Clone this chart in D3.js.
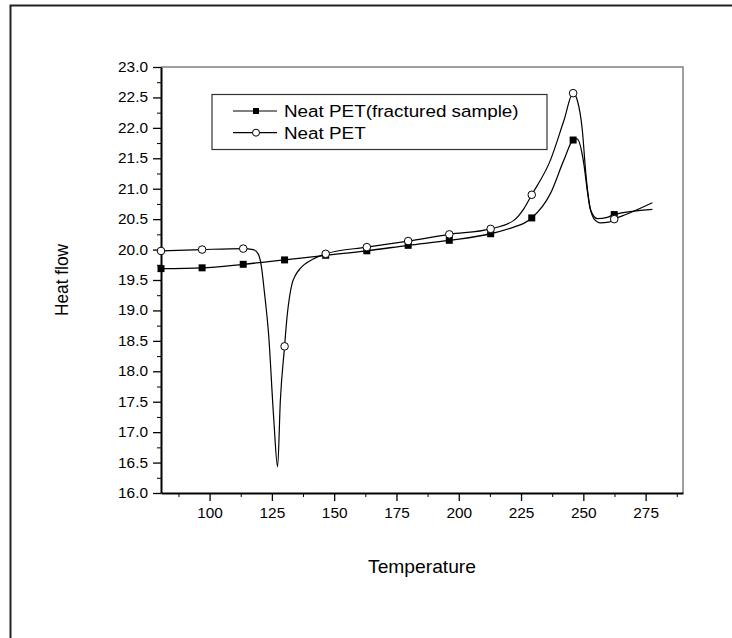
<!DOCTYPE html>
<html>
<head>
<meta charset="utf-8">
<script src="https://cdn.jsdelivr.net/npm/d3@7"></script>
<style>
  body { margin: 0; background: #fff; }
  text { font-family: "Liberation Sans", Arial, sans-serif; fill: #000; }
</style>
</head>
<body>
<div id="canvas"></div>
<script>
var w = 732;
var h = 638;

// fractured sample (filled squares)
const fracT = [80.5, 97, 113.5, 130.1, 146.6, 163.1, 179.7, 196.2, 212.8, 222.1, 226.1, 229.3, 236.8, 242.2, 245.9, 247.5, 250.2, 251.6, 252.9, 255.6, 259.6, 262.4, 277.7];
const fracV = [19.687, 19.70, 19.758, 19.83, 19.906, 19.98, 20.07, 20.152, 20.26, 20.37, 20.43, 20.52, 20.92, 21.47, 21.80, 21.82, 21.41, 20.97, 20.65, 20.51, 20.53, 20.575, 20.66];

// neat PET (open circles)
const neatT = [80.5, 97, 113.5, 117.5, 119.5, 120.8, 122, 123.7, 125.7, 127.3, 128.4, 130.1, 131.1, 132, 133.1, 134.5, 136.4, 141.8, 146.6, 163.1, 179.7, 196.2, 212.8, 222.1, 226.1, 229.3, 236.8, 242.2, 245.9, 247.6, 249.6, 250.9, 252.2, 254.2, 256.9, 260.2, 262.4, 267.6, 277.7];
const neatV = [19.977, 20.0, 20.016, 20.0, 19.93, 19.72, 19.3, 18.6, 17.25, 16.43, 17.52, 18.41, 18.9, 19.2, 19.44, 19.58, 19.69, 19.85, 19.93, 20.04, 20.14, 20.25, 20.34, 20.48, 20.67, 20.90, 21.47, 22.12, 22.57, 22.45, 21.96, 21.30, 20.81, 20.51, 20.44, 20.45, 20.50, 20.585, 20.77];

// temperatures where symbols are drawn
const markerT = [80.5, 97, 113.5, 130.1, 146.6, 163.1, 179.7, 196.2, 212.8, 229.3, 245.9, 262.4];

const xTicks = [100, 125, 150, 175, 200, 225, 250, 275];
const xMinor = [87.5, 112.5, 137.5, 162.5, 187.5, 212.5, 237.5, 262.5, 287.5];
const yTicks = [16, 16.5, 17, 17.5, 18, 18.5, 19, 19.5, 20, 20.5, 21, 21.5, 22, 22.5, 23];
const yMinor = [16.25, 16.75, 17.25, 17.75, 18.25, 18.75, 19.25, 19.75, 20.25, 20.75, 21.25, 21.75, 22.25, 22.75];

const legendNames = ["Neat PET(fractured sample)", "Neat PET"];

// horizontal stretch of the original picture
const sx = 1.1;

const svg = d3.select("#canvas")
    .append("svg")
    .attr("width", w)
    .attr("height", h);

// outer frame (only left and top show)
svg.append("path")
    .attr("d", "M10.5,638 L10.5,5.5 L732,5.5")
    .attr("fill", "none")
    .attr("stroke", "#222")
    .attr("stroke-width", 2);

const pLeft = 161, pRight = 683, pTop = 67, pBottom = 493;

const x = d3.scaleLinear().domain([80.5, 290]).range([pLeft, pRight]);
const y = d3.scaleLinear().domain([16, 23]).range([pBottom, pTop]);

// top and right frame lines
svg.append("path")
    .attr("d", `M${pLeft},${pTop} L${pRight},${pTop} L${pRight},${pBottom}`)
    .attr("fill", "none")
    .attr("stroke", "#808080")
    .attr("stroke-width", 1.5);

// minor ticks
svg.append("g")
    .attr("transform", `translate(0,${pBottom})`)
    .call(d3.axisBottom(x).tickValues(xMinor).tickSize(4).tickFormat(""))
    .call(g => g.select(".domain").remove());
svg.append("g")
    .attr("transform", `translate(${pLeft},0)`)
    .call(d3.axisLeft(y).tickValues(yMinor).tickSize(4).tickFormat(""))
    .call(g => g.select(".domain").remove());

// major axes
const xAxis = svg.append("g")
    .attr("transform", `translate(0,${pBottom})`)
    .call(d3.axisBottom(x).tickValues(xTicks).tickSize(8).tickSizeOuter(0).tickPadding(7).tickFormat(d3.format("d")));
const yAxis = svg.append("g")
    .attr("transform", `translate(${pLeft},0)`)
    .call(d3.axisLeft(y).tickValues(yTicks).tickSize(8).tickSizeOuter(0).tickPadding(5).tickFormat(d3.format(".1f")));

[xAxis, yAxis].forEach(function(a){
    a.selectAll("line").attr("stroke", "#000").attr("stroke-width", 1.3);
    a.select(".domain").attr("stroke", "#000").attr("stroke-width", 2);
    a.selectAll("text")
        .attr("font-family", "Liberation Sans, Arial, sans-serif")
        .attr("font-size", 14)
        .attr("fill", "#000")
        .attr("transform", `scale(${sx},1)`);
});
// undo the stretch on the x position of the left labels
yAxis.selectAll("text").attr("x", -13 / sx);

// axis titles
svg.append("text")
    .attr("transform", `translate(${(pLeft + pRight) / 2},573) scale(${sx},1)`)
    .attr("text-anchor", "middle")
    .attr("font-size", 17.5)
    .text("Temperature");

svg.append("text")
    .attr("transform", `translate(68,${(pTop + pBottom) / 2}) scale(${sx},1) rotate(-90)`)
    .attr("text-anchor", "middle")
    .attr("font-size", 17.3)
    .text("Heat flow");

// lines
const line = d3.line()
    .x(d => x(d[0]))
    .y(d => y(d[1]))
    .curve(d3.curveMonotoneX);

const fracData = fracT.map((t, i) => [t, fracV[i]]);
const neatData = neatT.map((t, i) => [t, neatV[i]]);

svg.append("path")
    .datum(fracData)
    .attr("d", line)
    .attr("fill", "none")
    .attr("stroke", "#000")
    .attr("stroke-width", 1.3);

svg.append("path")
    .datum(neatData)
    .attr("d", line)
    .attr("fill", "none")
    .attr("stroke", "#000")
    .attr("stroke-width", 1.2);

// markers
svg.append("g").selectAll("rect")
    .data(fracData.filter(d => markerT.includes(d[0])))
    .join("rect")
    .attr("x", d => x(d[0]) - 3.5)
    .attr("y", d => y(d[1]) - 3.5)
    .attr("width", 7)
    .attr("height", 7)
    .attr("fill", "#000");

svg.append("g").selectAll("circle")
    .data(neatData.filter(d => markerT.includes(d[0])))
    .join("circle")
    .attr("cx", d => x(d[0]))
    .attr("cy", d => y(d[1]))
    .attr("r", 3.8)
    .attr("fill", "#fff")
    .attr("stroke", "#000")
    .attr("stroke-width", 1);

// legend
const legend = svg.append("g");
legend.append("rect")
    .attr("x", 212)
    .attr("y", 94.5)
    .attr("width", 335)
    .attr("height", 55)
    .attr("fill", "#fff")
    .attr("stroke", "#333")
    .attr("stroke-width", 1.2);

legendNames.forEach(function(name, i){
    let ly = 111 + i * 21.7;
    legend.append("line")
        .attr("x1", 233)
        .attr("x2", 277)
        .attr("y1", ly)
        .attr("y2", ly)
        .attr("stroke", "#000")
        .attr("stroke-width", 1.2);
    if (i === 0) {
        legend.append("rect")
            .attr("x", 253)
            .attr("y", ly - 3)
            .attr("width", 6)
            .attr("height", 6)
            .attr("fill", "#000");
    } else {
        legend.append("circle")
            .attr("cx", 256)
            .attr("cy", ly)
            .attr("r", 3.5)
            .attr("fill", "#fff")
            .attr("stroke", "#000");
    }
    legend.append("text")
        .attr("transform", `translate(284,${ly + 6}) scale(1.13,1)`)
        .attr("font-size", 16.7)
        .text(name);
});
</script>
</body>
</html>
